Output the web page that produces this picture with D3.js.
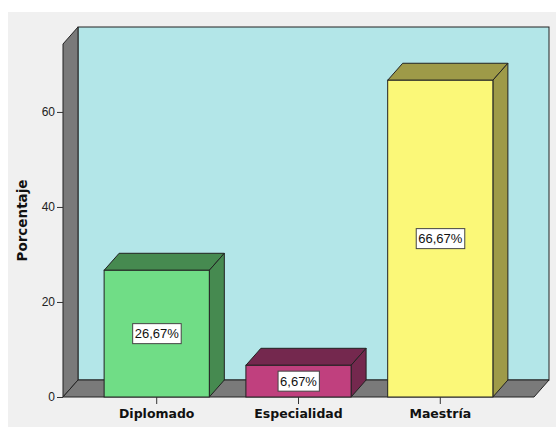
<!DOCTYPE html>
<html>
<head>
<meta charset="utf-8">
<script src="https://cdn.jsdelivr.net/npm/d3@7"></script>
<style>
  body { margin: 0; background: #ffffff; }
  svg { display: block; }
</style>
</head>
<body>
<script>
// Bar chart, 3D style, Porcentaje by degree
const categories = ['Diplomado', 'Especialidad', 'Maestría'];
const values = [26.67, 6.67, 66.67];
const valueLabels = ['26,67%', '6,67%', '66,67%'];
const yTicks = [0, 20, 40, 60];

const faceColors = ['#70dd86', '#c0407e', '#fbf878'];
const darkColors = ['#468a50', '#74284e', '#9e9a48'];

const width = 556, height = 427;
const depthX = 15, depthY = -17;

let svg = d3.select('body').append('svg')
    .attr('width', width)
    .attr('height', height);

// gray panel behind the chart
svg.append('rect')
    .attr('x', 8).attr('y', 12)
    .attr('width', width - 8).attr('height', height - 12)
    .style('fill', '#f0f0f0');

let y = d3.scaleLinear().domain([0, 74.3]).range([397, 44]);
let x = d3.scaleBand().domain(categories).range([63, 534])
    .paddingInner(0.258).paddingOuter(0.29);

let x0 = 63, x1 = 534, yTop = y.range()[1], yBase = y(0);

// back wall
svg.append('rect')
    .attr('x', x0 + depthX).attr('y', yTop + depthY)
    .attr('width', x1 - x0).attr('height', yBase - yTop)
    .style('fill', '#b3e6e8').style('stroke', '#222').style('stroke-width', 1);

// left wall
svg.append('polygon')
    .attr('points', [[x0, yTop], [x0 + depthX, yTop + depthY], [x0 + depthX, yBase + depthY], [x0, yBase]].join(' '))
    .style('fill', '#7a7a7a').style('stroke', '#222').style('stroke-width', 1);

// floor
svg.append('polygon')
    .attr('points', [[x0, yBase], [x0 + depthX, yBase + depthY], [x1 + depthX, yBase + depthY], [x1, yBase]].join(' '))
    .style('fill', '#7a7a7a').style('stroke', '#222').style('stroke-width', 1);

// y axis
let yAxis = svg.append('g')
    .attr('transform', 'translate(' + x0 + ',0)')
    .call(d3.axisLeft(y).tickValues(yTicks).tickSize(6).tickPadding(2).tickFormat(d3.format('d')));
yAxis.select('.domain').remove();
yAxis.selectAll('line').style('stroke', '#333');
yAxis.selectAll('text')
    .style('font-family', 'Arial, "Liberation Sans", sans-serif')
    .style('font-size', '12px')
    .style('fill', '#222');

svg.append('text')
    .attr('transform', 'translate(27,' + ((yTop + yBase) / 2) + ') rotate(-90)')
    .attr('text-anchor', 'middle')
    .style('font-family', '"DejaVu Sans", sans-serif')
    .style('font-weight', 'bold')
    .style('font-size', '13.5px')
    .style('fill', '#111')
    .text('Porcentaje');

// bars
let data = categories.map((c, i) => ({cat: c, val: values[i], label: valueLabels[i], face: faceColors[i], dark: darkColors[i]}));

let bars = svg.selectAll('.bar')
    .data(data)
    .join('g')
        .attr('class', 'bar');

bars.append('polygon')
    .attr('points', d => {
        let l = x(d.cat), r = l + x.bandwidth(), t = y(d.val);
        return [[l, t], [l + depthX, t + depthY], [r + depthX, t + depthY], [r, t]].join(' ');
    })
    .style('fill', d => d.dark).style('stroke', '#222').style('stroke-width', 1);

bars.append('polygon')
    .attr('points', d => {
        let r = x(d.cat) + x.bandwidth(), t = y(d.val);
        return [[r, t], [r + depthX, t + depthY], [r + depthX, yBase + depthY], [r, yBase]].join(' ');
    })
    .style('fill', d => d.dark).style('stroke', '#222').style('stroke-width', 1);

bars.append('rect')
    .attr('x', d => x(d.cat))
    .attr('y', d => y(d.val))
    .attr('width', x.bandwidth())
    .attr('height', d => yBase - y(d.val))
    .style('fill', d => d.face).style('stroke', '#222').style('stroke-width', 1);

// value labels in white boxes
let labels = bars.append('g')
    .attr('transform', d => 'translate(' + (x(d.cat) + x.bandwidth() / 2) + ',' + ((y(d.val) + yBase) / 2) + ')');

labels.append('text')
    .attr('text-anchor', 'middle')
    .attr('dy', '0.35em')
    .style('font-family', 'Arial, "Liberation Sans", sans-serif')
    .style('font-size', '13px')
    .style('fill', '#111')
    .text(d => d.label)
    .each(function() {
        let bb = this.getBBox();
        d3.select(this.parentNode).insert('rect', 'text')
            .attr('x', bb.x - 2).attr('y', -10)
            .attr('width', bb.width + 4).attr('height', 20)
            .style('fill', '#fff').style('stroke', '#444').style('stroke-width', 1);
    });

// x axis ticks and labels
let xAxis = svg.append('g')
    .attr('transform', 'translate(0,' + yBase + ')')
    .call(d3.axisBottom(x).tickSize(7).tickPadding(5));
xAxis.select('.domain').remove();
xAxis.selectAll('line').style('stroke', '#333');
xAxis.selectAll('text')
    .style('font-family', '"DejaVu Sans", sans-serif')
    .style('font-weight', 'bold')
    .style('font-size', '12.5px')
    .style('fill', '#111');
</script>
</body>
</html>
